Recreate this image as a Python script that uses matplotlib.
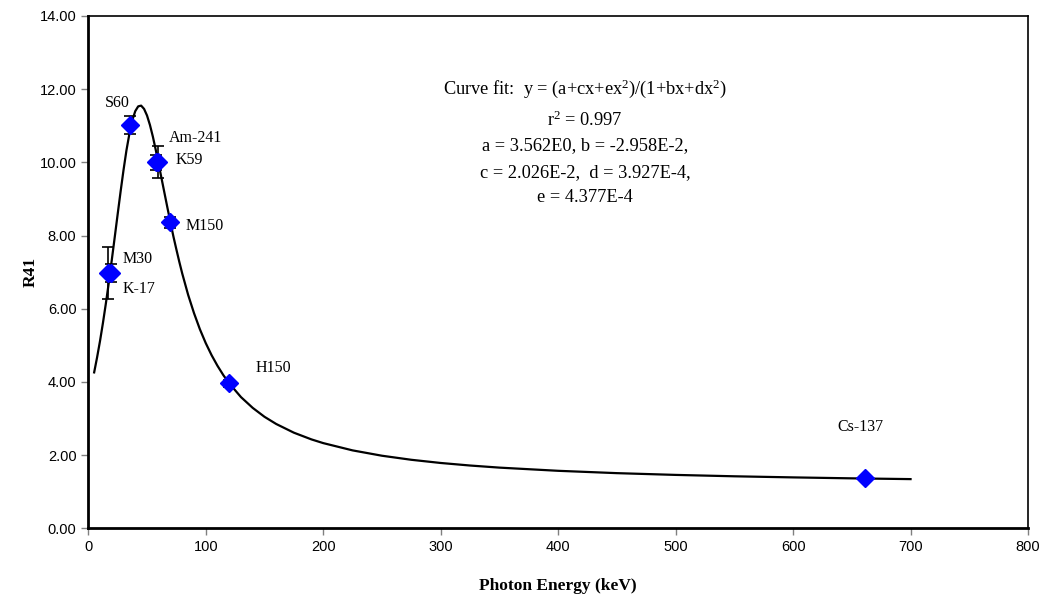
import numpy as np
import matplotlib
matplotlib.use("Agg")
import matplotlib.pyplot as plt

plt.rcParams['mathtext.fontset'] = 'custom'
plt.rcParams['mathtext.rm'] = 'Liberation Serif'

# measured points (photon energy keV, R41, error)
sources = ["K-17", "M30", "S60", "K59", "Am-241", "M150", "H150", "Cs-137"]
energy = [17, 19, 35.5, 57.5, 59.5, 69.5, 119.5, 661.5]
r41 = [6.98, 6.97, 11.02, 10.0, 10.0, 8.36, 3.96, 1.37]
r41_err = [0.72, 0.24, 0.24, 0.2, 0.44, 0.15, 0.1, 0.05]

# fitted curve
fit_x = [5, 7.5, 10, 12.5, 15, 17.5, 20, 22.5, 25, 27.5, 30, 32.5, 35, 37.5,
         40, 42.5, 45, 47.5, 50, 52.5, 55, 57.5, 60, 62.5, 65, 67.5, 70, 72.5,
         75, 77.5, 80, 85, 90, 95, 100, 105, 110, 115, 120, 130, 140, 150, 160,
         175, 190, 200, 225, 250, 275, 300, 325, 350, 400, 450, 500, 550, 600,
         650, 700]
fit_y = [4.26, 4.672, 5.12, 5.616, 6.15, 6.72, 7.33, 7.951, 8.58, 9.20, 9.79,
         10.33, 10.78, 11.15, 11.40, 11.53, 11.55, 11.46, 11.28, 11.02, 10.70,
         10.33, 9.94, 9.54, 9.14, 8.74, 8.35, 7.97, 7.62, 7.28, 6.96, 6.38,
         5.88, 5.44, 5.06, 4.729, 4.44, 4.184, 3.96, 3.585, 3.29, 3.047, 2.85,
         2.613, 2.429, 2.328, 2.129, 1.983, 1.872, 1.785, 1.7155, 1.658,
         1.571, 1.507, 1.459, 1.421, 1.391, 1.365, 1.344]

# label anchor positions (left edge, vertical centre)
label_pos = {
    "K-17": (29.5, 6.53), "M30": (29.5, 7.37), "S60": (14.2, 11.61),
    "K59": (74.5, 10.06), "Am-241": (69, 10.67), "M150": (83, 8.27),
    "H150": (142.5, 4.39), "Cs-137": (638, 2.78),
}

fit_lines = [
    r'Curve fit:  y = (a+cx+ex$\mathregular{^2}$)/(1+bx+dx$\mathregular{^2}$)',
    r'r$\mathregular{^2}$ = 0.997',
    'a = 3.562E0, b = -2.958E-2,',
    'c = 2.026E-2,  d = 3.927E-4,',
    'e = 4.377E-4',
]
fit_line_y = [12.0, 11.16, 10.45, 9.73, 9.03]

fig = plt.figure(figsize=(10.46, 5.96), dpi=100)
ax = fig.add_axes([0.0844, 0.1136, 0.8984, 0.8596])

ax.plot(fit_x, fit_y, color='black', lw=1.6, zorder=2)
ax.errorbar(energy, r41, yerr=r41_err, fmt='none', ecolor='black',
            elinewidth=1.2, capsize=4, capthick=1.2, zorder=3)
ax.plot(energy, r41, linestyle='none', marker='D', ms=9.5,
        color='#0000FF', mec='#0000FF', zorder=4)

for name in sources:
    x, y = label_pos[name]
    ax.text(x, y, name, fontsize=11.5, family='Liberation Serif',
            ha='left', va='center')

for line, y in zip(fit_lines, fit_line_y):
    ax.text(423, y, line, fontsize=13.2, family='Liberation Serif',
            ha='center', va='center')

ax.set_xlim(0, 800)
ax.set_ylim(0, 14)
ax.set_xticks(np.arange(0, 801, 100))
ax.set_yticks(np.arange(0, 14.1, 2))
ax.set_yticklabels([f'{v:.2f}' for v in np.arange(0, 14.1, 2)])
ax.tick_params(direction='out', length=5, width=1, color='#808080',
               labelsize=10.5)
for lab in ax.get_xticklabels() + ax.get_yticklabels():
    lab.set_family('Liberation Sans')

ax.spines['left'].set_linewidth(2)
ax.spines['bottom'].set_linewidth(2)
ax.spines['top'].set_linewidth(1.2)
ax.spines['right'].set_linewidth(1.2)

ax.set_xlabel('Photon Energy (keV)', fontsize=12.5, family='Liberation Serif',
              fontweight='bold', labelpad=17)
ax.set_ylabel('R41', fontsize=12.5, family='Liberation Serif',
              fontweight='bold', labelpad=1)

fig.savefig('out.png', dpi=100)
